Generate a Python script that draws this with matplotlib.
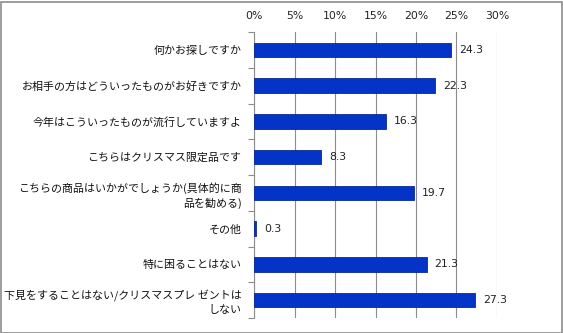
import numpy as np
import matplotlib
matplotlib.use('Agg')
import matplotlib.pyplot as plt
from matplotlib.patches import Rectangle

plt.rcParams['font.family'] = ['Noto Sans CJK JP', 'DejaVu Sans']

labels = ['何かお探しですか',
          'お相手の方はどういったものがお好きですか',
          '今年はこういったものが流行していますよ',
          'こちらはクリスマス限定品です',
          'こちらの商品はいかがでしょうか(具体的に商\n品を勧める)',
          'その他',
          '特に困ることはない',
          '下見をすることはない/クリスマスプレ ゼントは\nしない']
values = [24.3, 22.3, 16.3, 8.3, 19.7, 0.3, 21.3, 27.3]
xticks = [0, 5, 10, 15, 20, 25, 30]

bar_color = '#0433c8'
grid_color = '#8c8c8c'

fig = plt.figure(figsize=(5.63, 3.33), dpi=100)
ax = fig.add_axes([254/563, 1 - 318/333, 243/563, 286/333])

pos = np.arange(len(values))
ax.barh(pos, values, height=0.4, color=bar_color, edgecolor='#0a2a96',
        linewidth=0.6, zorder=3)

for p, v in zip(pos, values):
    ax.text(v + 1.0, p, f'{v:.1f}', va='center', ha='left', fontsize=7.8,
            color='#222222', family='DejaVu Sans', zorder=4)

ax.set_xlim(0, 30)
ax.set_ylim(len(values) - 0.5, -0.5)

ax.set_xticks(xticks)
ax.set_xticklabels([f'{t}%' for t in xticks], fontsize=7.8, family='DejaVu Sans')
ax.xaxis.tick_top()
ax.tick_params(axis='x', length=0, pad=8, colors='#222222')
ax.grid(axis='x', color=grid_color, linewidth=0.8, zorder=0)

# category boundaries carry the tick marks, labels sit on the centres
ax.set_yticks(np.arange(len(values) + 1) - 0.5)
ax.set_yticklabels([])
ax.set_yticks(pos, minor=True)
ax.set_yticklabels(labels, minor=True, fontsize=7.9, linespacing=1.35)
ax.tick_params(axis='y', which='major', length=4, width=0.8, color=grid_color,
               direction='out')
ax.tick_params(axis='y', which='minor', length=0, pad=9, colors='#111111')

for side in ['top', 'right', 'bottom']:
    ax.spines[side].set_visible(False)
ax.spines['left'].set_color(grid_color)
ax.spines['left'].set_linewidth(0.8)

fig.patches.append(Rectangle((0.5/563, 0.5/333), 1 - 2/563, 1 - 2/333,
                             transform=fig.transFigure, fill=False,
                             edgecolor='#8c8c8c', linewidth=1.2))

fig.savefig('out.png', dpi=100)
